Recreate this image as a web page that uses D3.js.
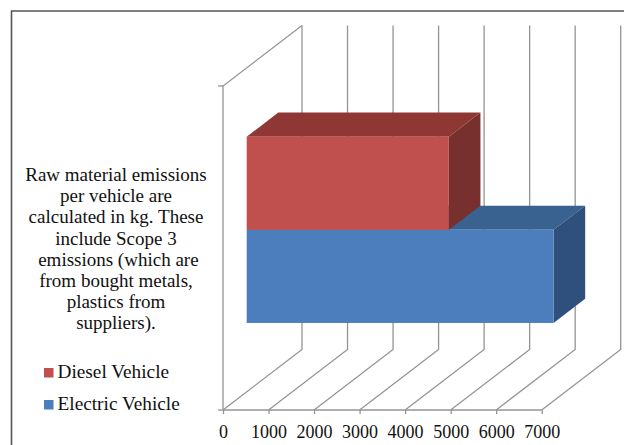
<!DOCTYPE html>
<html>
<head>
<meta charset="utf-8">
<script src="https://cdn.jsdelivr.net/npm/d3@7"></script>
<style>
    html, body { margin: 0; padding: 0; background: #fff; }
    svg { display: block; }
    text { font-family: "Liberation Serif", serif; fill: #111; }
    .note { font-size: 19px; white-space: pre; }
    .legend { font-size: 19.3px; }
    .axis text { font-size: 18px; }
</style>
</head>
<body>
<svg></svg>
<script>
var seriesNames = ["Electric Vehicle", "Diesel Vehicle"]
var seriesValues = [6740, 4440]
var frontColors = ["#4c7ebd", "#c0504d"]
var topColors = ["#3a6291", "#8e3735"]
var sideColors = ["#2f4f7c", "#77302e"]
var xTicks = [0, 1000, 2000, 3000, 4000, 5000, 6000, 7000]
var noteLines = [
    "Raw material emissions",
    "per vehicle are",
    "calculated in kg. These",
    "include Scope 3",
    " emissions (which are",
    "from bought metals,",
    "plastics from",
    "suppliers)."
]
var legendNames = ["Diesel Vehicle", "Electric Vehicle"]
var legendColors = ["#c0504d", "#4c7ebd"]

var width = 624
var height = 445
var gridColor = "#949494"

var svg = d3.select("svg")
    .attr("width", width)
    .attr("height", height)

// frame, only top and left show in the crop
svg.append("path")
    .attr("d", "M11.5," + height + "V11H" + width)
    .attr("fill", "none")
    .attr("stroke", "#555")
    .attr("stroke-width", 1.6)

var xScale = d3.scaleLinear()
    .domain([0, 7000])
    .range([223, 541.7])

// depth goes 0 (front) to 1 (back wall)
var depthX = d3.scaleLinear().domain([0, 1]).range([0, 79])
var depthY = d3.scaleLinear().domain([0, 1]).range([0, -60.5])

var floorY = 410
var topY = 86

var grid = svg.append("g")
    .attr("fill", "none")
    .attr("stroke", gridColor)
    .attr("stroke-width", 1.3)

// left wall
grid.append("path")
    .attr("d", "M" + xScale(0) + "," + floorY + "V" + topY
        + "L" + (xScale(0) + depthX(1)) + "," + (topY + depthY(1)))
grid.append("path")
    .attr("d", "M" + (xScale(0) - 5) + "," + topY + "H" + xScale(0))
grid.append("path")
    .attr("d", "M" + (xScale(0) - 5) + "," + floorY + "H" + xScale(0))

// floor diagonals and back wall lines
grid.selectAll(".gridline")
    .data(xTicks)
    .enter()
    .append("path")
    .attr("class", "gridline")
    .attr("d", function(d)
    {
        return "M" + xScale(d) + "," + floorY
            + "L" + (xScale(d) + depthX(1)) + "," + (floorY + depthY(1))
            + "V" + (topY + depthY(1))
    })

// bars sit between depth 0.3 and 0.7
var barFront = 0.3
var barBack = 0.7
var frontDx = depthX(barFront)
var frontDy = depthY(barFront)
var backDx = depthX(barBack) - frontDx
var backDy = depthY(barBack) - frontDy

var yScale = d3.scaleBand()
    .domain(seriesNames)
    .range([floorY, topY])
    .paddingInner(0)
    .paddingOuter(0.74)

// electric first, diesel stands in front of its top face
var bars = svg.selectAll(".bar")
    .data(seriesNames)
    .enter()
    .append("g")
    .attr("class", "bar")

var barBox = function(name)
{
    var i = seriesNames.indexOf(name)
    var x0 = xScale(0) + frontDx
    var x1 = xScale(seriesValues[i]) + frontDx
    var y0 = yScale(name) + frontDy
    var y1 = y0 + yScale.bandwidth()
    return {i: i, x0: x0, x1: x1, y0: y0, y1: y1}
}

bars.append("path")
    .attr("d", function(d)
    {
        var b = barBox(d)
        return "M" + b.x0 + "," + b.y0 + "L" + (b.x0 + backDx) + "," + (b.y0 + backDy)
            + "H" + (b.x1 + backDx) + "L" + b.x1 + "," + b.y0 + "Z"
    })
    .attr("fill", function(d) { return topColors[seriesNames.indexOf(d)] })

bars.append("path")
    .attr("d", function(d)
    {
        var b = barBox(d)
        return "M" + b.x1 + "," + b.y0 + "L" + (b.x1 + backDx) + "," + (b.y0 + backDy)
            + "V" + (b.y1 + backDy) + "L" + b.x1 + "," + b.y1 + "Z"
    })
    .attr("fill", function(d) { return sideColors[seriesNames.indexOf(d)] })

bars.append("rect")
    .attr("x", function(d) { return barBox(d).x0 })
    .attr("y", function(d) { return barBox(d).y0 })
    .attr("width", function(d) { var b = barBox(d); return b.x1 - b.x0 })
    .attr("height", yScale.bandwidth())
    .attr("fill", function(d) { return frontColors[seriesNames.indexOf(d)] })

// axis along the front of the floor
var xAxis = d3.axisBottom(xScale)
    .tickValues(xTicks)
    .tickSize(4)
    .tickPadding(11)
    .tickFormat(d3.format("d"))

var axis = svg.append("g")
    .attr("class", "axis")
    .attr("transform", "translate(0," + floorY + ")")
    .call(xAxis)

axis.select(".domain").remove()
axis.append("path")
    .attr("d", "M" + xScale(0) + ",0H" + xScale(7000))
    .attr("stroke", gridColor)
    .attr("stroke-width", 1.3)
    .attr("fill", "none")
axis.selectAll(".tick line")
    .attr("stroke", gridColor)
    .attr("stroke-width", 1.3)
axis.selectAll(".tick text").attr("fill", "#111")

svg.append("g")
    .selectAll("text")
    .data(noteLines)
    .enter()
    .append("text")
    .attr("class", "note")
    .attr("text-anchor", "middle")
    .attr("x", 116)
    .attr("y", function(d, i) { return 181 + i * 21.2 })
    .text(function(d) { return d })

var legend = svg.selectAll(".legendItem")
    .data(legendNames)
    .enter()
    .append("g")
    .attr("class", "legendItem")
    .attr("transform", function(d, i) { return "translate(0," + (368 + i * 32) + ")" })

legend.append("rect")
    .attr("x", 44)
    .attr("y", 0)
    .attr("width", 9.5)
    .attr("height", 9.5)
    .attr("fill", function(d, i) { return legendColors[i] })

legend.append("text")
    .attr("class", "legend")
    .attr("x", 57.5)
    .attr("y", 10)
    .text(function(d) { return d })
</script>
</body>
</html>
